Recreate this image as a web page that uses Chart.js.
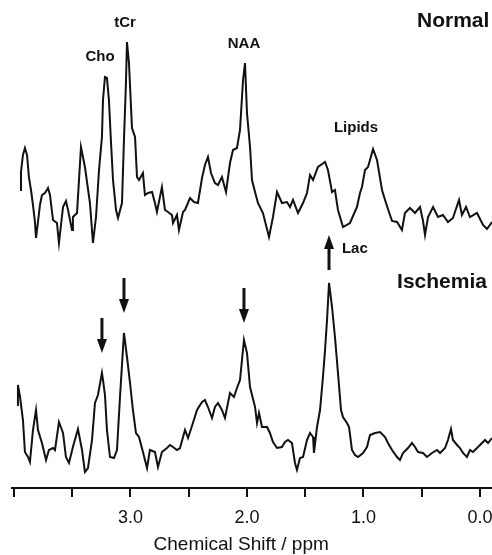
<!DOCTYPE html>
<html>
<head>
<meta charset="utf-8">
<script src="https://cdn.jsdelivr.net/npm/chart.js@4"></script>
<style>
  html, body { margin: 0; padding: 0; background: #fff; overflow: hidden; }
  #wrap { width: 492px; height: 555px; }
</style>
</head>
<body>
<div id="wrap"><canvas id="spectrum" width="492" height="555"></canvas></div>
<script>
// Normal brain spectrum (ppm, intensity above its own baseline)
const normalPpm = [3.948, 3.940, 3.923, 3.906, 3.888, 3.871, 3.854, 3.837, 3.820, 3.811, 3.794, 3.777, 3.760, 3.734, 3.708, 3.691,
  3.665, 3.631, 3.614, 3.579, 3.554, 3.536, 3.502, 3.494, 3.459, 3.425, 3.391, 3.348, 3.322, 3.296, 3.270, 3.245, 3.236, 3.219,
  3.202, 3.185, 3.167, 3.150, 3.124, 3.107, 3.073, 3.056, 3.039, 3.030, 3.013, 2.987, 2.961, 2.944, 2.927, 2.893, 2.876, 2.850,
  2.815, 2.790, 2.773, 2.730, 2.704, 2.678, 2.644, 2.635, 2.601, 2.584, 2.549, 2.532, 2.489, 2.455, 2.421, 2.386, 2.361, 2.335,
  2.309, 2.275, 2.249, 2.215, 2.180, 2.146, 2.120, 2.086, 2.060, 2.034, 2.017, 2.000, 1.974, 1.957, 1.931, 1.906, 1.863, 1.811,
  1.777, 1.742, 1.700, 1.657, 1.631, 1.605, 1.562, 1.519, 1.485, 1.459, 1.433, 1.391, 1.330, 1.305, 1.270, 1.245, 1.219, 1.176,
  1.116, 1.056, 1.030, 1.013, 0.987, 0.961, 0.918, 0.884, 0.841, 0.815, 0.790, 0.755, 0.712, 0.670, 0.644, 0.601, 0.558, 0.515,
  0.489, 0.472, 0.446, 0.403, 0.361, 0.318, 0.275, 0.232, 0.215, 0.180, 0.155, 0.120, 0.086, 0.026, -0.026, -0.060, -0.103];
const normalInt = [60, 78, 95, 102, 95, 72, 60, 45, 28, 12, 28, 45, 55, 57, 62, 55,
  30, 27, 7, 43, 49, 40, 20, 33, 37, 103, 83, 47, 7, 33, 80, 113, 150, 173,
  172, 150, 107, 70, 40, 32, 47, 110, 167, 208, 187, 122, 113, 73, 70, 77, 55, 57,
  58, 47, 38, 63, 40, 38, 35, 27, 35, 20, 38, 40, 52, 48, 47, 72, 85, 93,
  77, 67, 65, 73, 58, 87, 100, 102, 120, 170, 187, 137, 103, 70, 58, 47, 37, 13,
  33, 58, 47, 48, 43, 50, 37, 47, 57, 75, 70, 83, 88, 80, 58, 60, 40, 23,
  27, 43, 57, 63, 80, 83, 101, 90, 60, 50, 41, 29, 28, 20, 37, 42, 37, 43,
  29, 15, 33, 43, 33, 35, 28, 32, 38, 50, 35, 43, 33, 37, 25, 21, 28];

// Ischemic spectrum (ppm, intensity above its own baseline)
const ischemiaPpm = [3.974, 3.966, 3.948, 3.923, 3.906, 3.880, 3.863, 3.837, 3.811, 3.794, 3.760, 3.725, 3.700, 3.665, 3.648,
  3.614, 3.579, 3.554, 3.528, 3.494, 3.451, 3.416, 3.391, 3.365, 3.330, 3.305, 3.279, 3.245, 3.236, 3.219, 3.202, 3.176, 3.142,
  3.116, 3.090, 3.056, 3.030, 3.004, 2.979, 2.953, 2.927, 2.893, 2.858, 2.833, 2.790, 2.764, 2.730, 2.687, 2.661, 2.635, 2.601,
  2.575, 2.532, 2.506, 2.464, 2.429, 2.386, 2.361, 2.335, 2.300, 2.275, 2.249, 2.215, 2.189, 2.146, 2.112, 2.086, 2.060, 2.026,
  2.000, 1.974, 1.931, 1.914, 1.897, 1.871, 1.828, 1.803, 1.777, 1.742, 1.700, 1.674, 1.648, 1.614, 1.588, 1.571, 1.545, 1.519,
  1.485, 1.459, 1.433, 1.425, 1.399, 1.373, 1.348, 1.330, 1.313, 1.296, 1.270, 1.245, 1.219, 1.193, 1.176, 1.142, 1.124, 1.099,
  1.073, 1.047, 1.004, 0.970, 0.944, 0.901, 0.858, 0.815, 0.790, 0.755, 0.712, 0.687, 0.661, 0.618, 0.584, 0.558, 0.532, 0.489,
  0.455, 0.412, 0.369, 0.343, 0.300, 0.275, 0.249, 0.232, 0.197, 0.172, 0.146, 0.112, 0.086, 0.060, 0.026, 0.000, -0.043,
  -0.069, -0.103];
const ischemiaInt = [70, 90, 78, 55, 23, 18, 13, 45, 65, 45, 32, 15, 25, 27, 25,
  53, 42, 18, 12, 28, 46, 25, 3, 7, 35, 72, 80, 102, 95, 80, 45, 18, 17,
  25, 78, 142, 118, 92, 65, 42, 38, 23, 7, 25, 23, 8, 23, 27, 30, 28, 25,
  27, 45, 37, 52, 65, 73, 75, 68, 57, 68, 72, 65, 57, 82, 78, 87, 95, 135,
  122, 88, 68, 52, 62, 48, 48, 42, 33, 27, 28, 33, 35, 32, 12, 5, 17, 18,
  35, 42, 38, 22, 48, 65, 98, 125, 155, 192, 168, 138, 102, 65, 58, 52, 48, 25,
  20, 18, 22, 28, 40, 42, 43, 38, 32, 25, 18, 15, 22, 27, 32, 28, 23, 22,
  18, 22, 25, 22, 27, 35, 46, 35, 30, 27, 22, 18, 25, 23, 27, 30, 35,
  32, 37];

// labelled ticks on the shift axis
const tickLabels = [3.0, 2.0, 1.0, 0.0];

// the normal trace is stacked above the ischemic one
const NORMAL_OFFSET = 225;

const FONT = 'Arial, "Liberation Sans", Helvetica, sans-serif';
const INK = '#111';

// text placed in data units: [text, ppm, height, font, align]
const annotations = [
  ['Cho', 3.262, 418, 'bold 15px', 'center'],
  ['tCr', 3.047, 452, 'bold 15px', 'center'],
  ['NAA', 2.026, 431, 'bold 15px', 'center'],
  ['Lipids', 1.064, 347, 'bold 15px', 'center'],
  ['Normal', 0.541, 454, 'bold 21px', 'left'],
  ['Lac', 1.185, 226, 'bold 15px', 'left'],
  ['Ischemia', 0.712, 193, 'bold 21px', 'left']
];

// arrows over ischemic peaks: [approx ppm, direction, gap above peak]
const arrows = [
  [3.24, 'down', 20],
  [3.05, 'down', 20],
  [2.02, 'down', 17],
  [1.30, 'up', 13]
];

function toPoints(ppm, vals, offset) {
  return ppm.map((p, i) => ({ x: p, y: vals[i] + offset }));
}

function findPeak(near) {
  let best = -1;
  ischemiaPpm.forEach((p, i) => {
    if (Math.abs(p - near) < 0.05 && (best < 0 || ischemiaInt[i] > ischemiaInt[best])) best = i;
  });
  return best;
}

const overlay = {
  id: 'overlay',
  afterDatasetsDraw(chart) {
    const { ctx, scales: { x, y } } = chart;
    ctx.save();
    ctx.fillStyle = INK;
    ctx.textBaseline = 'middle';
    annotations.forEach(([text, ppm, h, font, align]) => {
      ctx.font = font + ' ' + FONT;
      ctx.textAlign = align;
      ctx.fillText(text, x.getPixelForValue(ppm), y.getPixelForValue(h));
    });

    arrows.forEach(([near, dir, gap]) => {
      const i = findPeak(near);
      const px = x.getPixelForValue(ischemiaPpm[i]);
      const py = y.getPixelForValue(ischemiaInt[i]);
      const len = 35, head = 14, hw = 5;
      ctx.beginPath();
      if (dir === 'down') {
        const tip = py - gap;
        ctx.fillRect(px - 1.5, tip - len, 3, len - head + 1);
        ctx.moveTo(px - hw, tip - head);
        ctx.lineTo(px + hw, tip - head);
        ctx.lineTo(px, tip);
      } else {
        const base = py - gap;
        const tip = base - len;
        ctx.fillRect(px - 1.5, tip + head - 1, 3, len - head + 1);
        ctx.moveTo(px - hw, tip + head);
        ctx.lineTo(px + hw, tip + head);
        ctx.lineTo(px, tip);
      }
      ctx.closePath();
      ctx.fill();
    });

    // axis title
    ctx.font = '19px ' + FONT;
    ctx.textAlign = 'center';
    ctx.fillText('Chemical Shift / ppm', x.getPixelForValue(2.05), x.bottom + 17);
    ctx.restore();
  }
};

new Chart(document.getElementById('spectrum'), {
  type: 'scatter',
  data: {
    datasets: [
      { label: 'Normal', data: toPoints(normalPpm, normalInt, NORMAL_OFFSET) },
      { label: 'Ischemia', data: toPoints(ischemiaPpm, ischemiaInt, 0) }
    ].map(ds => Object.assign(ds, {
      showLine: true, borderColor: INK, borderWidth: 2, pointRadius: 0, tension: 0, fill: false
    }))
  },
  options: {
    responsive: false,
    animation: false,
    devicePixelRatio: 1,
    layout: { padding: { left: 12, right: 0, top: 0, bottom: 27 } },
    plugins: { legend: { display: false }, tooltip: { enabled: false } },
    scales: {
      x: {
        type: 'linear', reverse: true, min: -0.103, max: 4.017,
        border: { display: true, color: INK, width: 2 },
        grid: { drawOnChartArea: false, drawTicks: true, tickLength: 9, color: INK, lineWidth: 2 },
        ticks: {
          stepSize: 0.5, includeBounds: false, autoSkip: false, maxRotation: 0, padding: 10,
          color: INK, font: { family: FONT, size: 18 },
          callback: v => tickLabels.some(t => Math.abs(t - v) < 1e-6) ? Number(v).toFixed(1) : ''
        },
        // let the axis run to the right edge; the last label may be cut there
        afterFit(scale) {
          scale.height = 40;
          scale.paddingLeft = 0;
          scale.paddingRight = 0;
        }
      },
      y: { display: false, min: -13, max: 475 }
    }
  },
  plugins: [overlay]
});
</script>
</body>
</html>
